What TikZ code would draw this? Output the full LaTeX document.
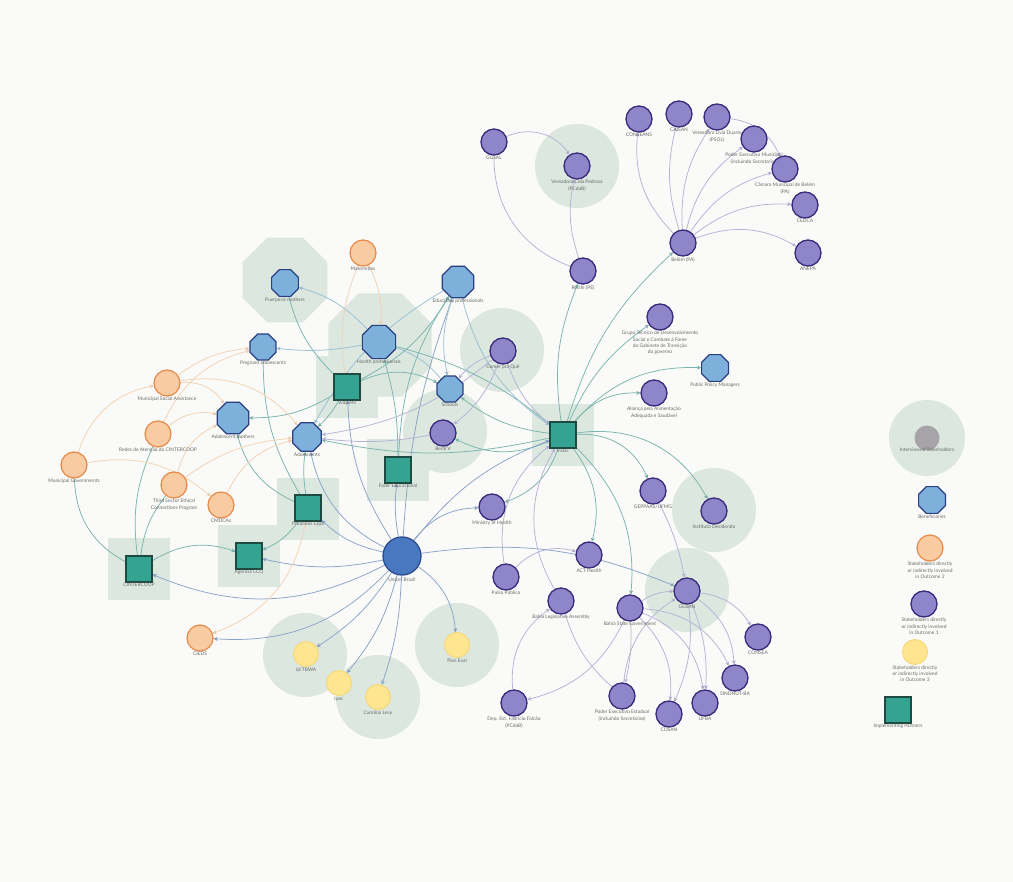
\documentclass[tikz,border=0pt]{standalone}
\usepackage{fontspec}
\setmainfont{Lato}
\usetikzlibrary{shapes.geometric,arrows.meta}

\definecolor{paper}{HTML}{FAFAF8}
\definecolor{hlc}{HTML}{DCE7DF}
\definecolor{pfill}{HTML}{8E86C9}
\definecolor{pdraw}{HTML}{3B2A7C}
\definecolor{ofill}{HTML}{F9CBA3}
\definecolor{odraw}{HTML}{E58A48}
\definecolor{yfill}{HTML}{FDE68F}
\definecolor{ydraw}{HTML}{F6D56E}
\definecolor{bfill}{HTML}{7DB1DC}
\definecolor{bdraw}{HTML}{283F80}
\definecolor{tfill}{HTML}{35A391}
\definecolor{tdraw}{HTML}{1D4B42}
\definecolor{ufill}{HTML}{4A78C0}
\definecolor{udraw}{HTML}{2C4C90}
\definecolor{gfill}{HTML}{A6A4A8}
\definecolor{txt}{HTML}{6A6A6A}
\definecolor{ecp}{HTML}{79B5AE}
\definecolor{ecu}{HTML}{8AA3C8}
\definecolor{ece}{HTML}{B6B2D6}
\definecolor{eco}{HTML}{F3D2B2}
\definecolor{ecb}{HTML}{99C0D4}

\pgfdeclarelayer{bg}
\pgfdeclarelayer{edges}
\pgfsetlayers{bg,edges,main}

\begin{document}
\begin{tikzpicture}[x=1pt,y=-1pt]
\tikzstyle{every label}=[font=\fontsize{4.9}{6.2}\selectfont,text=txt,align=center,inner sep=0.4pt]
\tikzstyle{o1}=[circle,draw=pdraw,fill=pfill,line width=1.3pt,minimum size=26pt,inner sep=0pt,label distance=1.2pt]
\tikzstyle{o2}=[circle,draw=odraw,fill=ofill,line width=1.2pt,minimum size=26pt,inner sep=0pt,label distance=1.2pt]
\tikzstyle{o3}=[circle,draw=ydraw,fill=yfill,line width=0.8pt,minimum size=25pt,inner sep=0pt,label distance=1.2pt]
\tikzstyle{benef}=[regular polygon,regular polygon sides=8,draw=bdraw,fill=bfill,line width=1.2pt,minimum size=29pt,inner sep=0pt,label distance=0.8pt]
\tikzstyle{partner}=[rectangle,draw=tdraw,fill=tfill,line width=1.2pt,minimum size=26pt,inner sep=0pt,label distance=1.2pt]
\tikzstyle{hlsq}=[rectangle,fill=hlc,minimum size=62pt,inner sep=0pt]
\tikzstyle{hloct}=[regular polygon,regular polygon sides=8,fill=hlc,inner sep=0pt]
\tikzstyle{hl}=[fill=hlc]
\tikzstyle{ep}=[draw=ecp,line width=0.75pt,-{Stealth[length=4pt,width=4pt]}]
\tikzstyle{eu}=[draw=ecu,line width=0.75pt,-{Stealth[length=4pt,width=4pt]}]
\tikzstyle{ee}=[draw=ece,line width=0.75pt,-{Stealth[length=4pt,width=4pt]}]
\tikzstyle{eo}=[draw=eco,line width=0.75pt,-{Stealth[length=4pt,width=4pt]}]
\tikzstyle{eb}=[draw=ecb,line width=0.75pt,-{Stealth[length=4pt,width=4pt]}]

\useasboundingbox (0,0) rectangle (1013,882);

% interviewed stakeholders
\begin{pgfonlayer}{bg}
\fill[paper] (0,0) rectangle (1013,882);
\fill[hl] (577,166) circle[radius=42];
\fill[hl] (502,350) circle[radius=42];
\fill[hl] (445,431) circle[radius=42];
\fill[hl] (714,510) circle[radius=42];
\fill[hl] (687,590) circle[radius=42];
\fill[hl] (305,655) circle[radius=42];
\fill[hl] (378,697) circle[radius=42];
\fill[hl] (457,645) circle[radius=42];
\fill[hl] (927,438) circle[radius=38];
\node[hloct,minimum size=92pt] (hpuerp) at (285,280) {};
\node[hloct,minimum size=112pt] (hhealth) at (380,345) {};
\node[hlsq] (hvidac) at (563,435) {};
\node[hlsq] (hvidamil) at (347,387) {};
\node[hlsq] (hfazer) at (398,470) {};
\node[hlsq] (hlapa) at (308,509) {};
\node[hlsq] (hcinter) at (139,569) {};
\node[hlsq] (hccq) at (249,556) {};
\end{pgfonlayer}

% outcome 1
\node[o1,label={below:GGSAL}] (ggsal) at (494,142) {};
\node[o1,label={below:Vereadora Cida Pedrosa\\(PCdoB)}] (cida) at (577,166) {};
\node[o1,label={below:CONSEANS}] (conseans) at (639,119) {};
\node[o1,label={below:CAISAN}] (caisan) at (679,114) {};
\node[o1,label={below:Vereadora Livia Duarte\\(PSOL)}] (livia) at (717,117) {};
\node[o1,label={below:Poder Executivo Municipal\\(incluindo Secretarias)}] (pemun) at (754,139) {};
\node[o1,label={below:Câmara Municipal de Belém\\(PA)}] (camara) at (785,169) {};
\node[o1,label={below:CEDCA}] (cedca) at (805,205) {};
\node[o1,label={below:ANEPA}] (anepa) at (808,253) {};
\node[o1,label={below:Belém (PA)}] (belem) at (683,243) {};
\node[o1,label={below:Recife (PE)}] (recife) at (583,271) {};
\node[o1,label={below:Grupo Técnico de Desenvolvimento\\Social e Combate à Fome\\do Gabinete de Transição\\do governo}] (grupo) at (660,317) {};
\node[o1,label={below:Aliança pela Alimentação\\Adequada e Saudável}] (alianca) at (654,393) {};
\node[o1,label={below:Comer pra Quê}] (comer) at (503,351) {};
\node[o1,label={below:BemTV}] (bemtv) at (443,433) {};
\node[o1,label={below:GEPPAAS/UFMG}] (geppaas) at (653,491) {};
\node[o1,label={below:Instituto Desiderata}] (desid) at (714,511) {};
\node[o1,label={below:Ministry of Health}] (moh) at (492,507) {};
\node[o1,label={below:ACT Health}] (act) at (589,555) {};
\node[o1,label={below:Pulso Público}] (pulso) at (506,577) {};
\node[o1,label={below:Bahia Legislative Assembly}] (alba) at (561,601) {};
\node[o1,label={below:Bahia State Government}] (bsg) at (630,608) {};
\node[o1,label={below:GGSAN}] (ggsan) at (687,591) {};
\node[o1,label={below:CONSEA}] (consea) at (758,637) {};
\node[o1,label={below:SINDNUT-BA}] (sindnut) at (735,678) {};
\node[o1,label={below:UFBA}] (ufba) at (705,703) {};
\node[o1,label={below:COSAN}] (cosan) at (669,714) {};
\node[o1,label={below:Poder Executivo Estadual\\(incluindo Secretarias)}] (peest) at (622,696) {};
\node[o1,label={below:Dep. Est. Fabrício Falcão\\(PCdoB)}] (dep) at (514,703) {};

% beneficiaries
\node[benef,label={below:Puerperal mothers}] (puerp) at (285,283) {};
\node[benef,minimum size=36pt,label={below:Health professionals}] (health) at (379,342) {};
\node[benef,minimum size=34pt,label={below:Education professionals}] (edu) at (458,282) {};
\node[benef,minimum size=28pt,label={below:Pregnant adolescents}] (preg) at (263,347) {};
\node[benef,minimum size=28pt,label={below:Schools}] (schools) at (450,389) {};
\node[benef,minimum size=34pt,label={below:Adolescent mothers}] (admoth) at (233,418) {};
\node[benef,minimum size=31pt,label={below:Adolescents}] (adol) at (307,437) {};
\node[benef,label={below:Public Policy Managers}] (ppm) at (715,368) {};

% outcome 2
\node[o2,label={below:Maternities}] (matern) at (363,253) {};
\node[o2,label={below:Municipal Social Assistance}] (msa) at (167,383) {};
\node[o2,label={below:Redes de Atenção do CINTERCOOP}] (redes) at (158,434) {};
\node[o2,label={below:Municipal Governments}] (mungov) at (74,465) {};
\node[o2,label={below:Third Sector Ethical\\Connections Program}] (third) at (174,485) {};
\node[o2,label={below:CMDCAs}] (cmdca) at (221,505) {};
\node[o2,label={below:CIEDS}] (cieds) at (200,638) {};

% outcome 3
\node[o3,label={below:id/TBWA}] (tbwa) at (306,654) {};
\node[o3,label={below:Ipec}] (ipec) at (339,683) {};
\node[o3,label={below:Carolina Levy}] (levy) at (378,697) {};
\node[o3,label={below:Plan Eval}] (plan) at (457,645) {};

% implementing partners
\node[partner,label={below:Vidac}] (vidac) at (563,435) {};
\node[partner,label={below:Vida Mil}] (vidamil) at (347,387) {};
\node[partner,label={below:Fazer Educacional}] (fazer) at (398,470) {};
\node[partner,label={below:Prodados Lapa}] (lapa) at (308,508) {};
\node[partner,label={below:CINTERCOOP}] (cinter) at (139,569) {};
\node[partner,label={below:Agência CCQ}] (ccq) at (249,556) {};
\node[circle,draw=udraw,fill=ufill,line width=1.3pt,minimum size=38pt,inner sep=0pt,label={[label distance=1.2pt]below:Unicef Brazil}] (unicef) at (402,556) {};

% legend
\node[circle,fill=gfill,minimum size=25pt,inner sep=0pt,label={[label distance=-3pt]below:Interviewed Stakeholders}] (lgint) at (927,438) {};
\node[benef,label={below:Beneficiaries}] (lgben) at (932,500) {};
\node[o2,label={below:Stakeholders directly\\or indirectly involved\\in Outcome 2}] (lgo2) at (930,548) {};
\node[o1,label={below:Stakeholders directly\\or indirectly involved\\in Outcome 1}] (lgo1) at (924,604) {};
\node[o3,label={below:Stakeholders directly\\or indirectly involved\\in Outcome 3}] (lgo3) at (915,652) {};
\node[partner,label={below:Implementing Partners}] (lgpart) at (898,710) {};

\begin{pgfonlayer}{edges}
% partners
\path[ep]
 (vidac) edge[bend left=15] (belem)
 (vidac) edge[bend left=15] (recife)
 (vidac) edge[bend left=15] (grupo)
 (vidac) edge[bend left=25] (ppm)
 (vidac) edge[bend left=25] (alianca)
 (vidac) edge[bend left=35] (geppaas)
 (vidac) edge[bend left=35] (desid)
 (vidac) edge[bend left=25] (act)
 (vidac) edge[bend left=25] (bsg)
 (vidac) edge[bend left=25] (bemtv)
 (vidac) edge[bend left=15] (schools)
 (vidac) edge[bend left=12] (adol)
 (vidac) edge[bend left=25] (moh)
 (vidac) edge[bend right=12,-] (health)
 (vidamil) edge[bend left=15] (admoth)
 (vidamil) edge[bend left=8] (adol)
 (vidamil) edge[bend left=25] (schools)
 (vidamil) edge[bend left=15,-] (puerp)
 (vidamil) edge[bend right=15] (edu)
 (fazer) edge[bend left=15] (edu)
 (fazer) edge[bend right=8] (health)
 (lapa) edge[bend left=8] (adol)
 (lapa) edge[bend left=25] (admoth)
 (lapa) edge[bend left=15] (ccq)
 (lapa) edge[bend left=15,-] (preg)
 (cinter) edge[bend left=25] (ccq)
 (cinter) edge[bend left=15,-] (redes)
 (cinter) edge[bend left=15,-] (third)
 (mungov) edge[bend right=30,-] (cinter);
% unicef
\path[eu]
 (unicef) edge[bend left=25] (cinter)
 (unicef) edge[bend left=12] (ccq)
 (unicef) edge[bend left=15] (lapa)
 (unicef) edge[bend left=25] (cieds)
 (unicef) edge[bend left=12] (tbwa)
 (unicef) edge[bend left=12] (ipec)
 (unicef) edge[bend left=8] (levy)
 (unicef) edge[bend left=25] (plan)
 (unicef) edge[bend left=25] (moh)
 (unicef) edge[bend left=15] (ggsan)
 (unicef) edge[bend left=15] (vidac)
 (unicef) edge[bend left=8] (fazer)
 (unicef) edge[bend left=15] (vidamil)
 (unicef) edge[bend left=25] (adol)
 (unicef) edge[bend left=8] (edu);
% outcome 2
\path[eo]
 (mungov) edge[bend left=30] (msa)
 (mungov) edge[bend left=25] (cmdca)
 (msa) edge[bend left=15] (preg)
 (msa) edge[bend left=30] (admoth)
 (msa) edge[bend left=30] (adol)
 (redes) edge[bend left=25] (admoth)
 (redes) edge[bend left=25] (preg)
 (third) edge[bend left=25] (admoth)
 (third) edge[bend left=15] (adol)
 (cmdca) edge[bend left=25] (adol)
 (matern) edge[bend left=15] (health)
 (matern) edge[bend right=15,-] (vidamil)
 (lapa) edge[bend left=30] (cieds);
% beneficiaries
\path[eb]
 (health) edge[bend left=8] (preg)
 (health) edge[bend right=15] (puerp)
 (health) edge[bend left=15,-] (schools)
 (edu) edge[bend right=15] (schools)
 (edu) edge[bend right=15] (adol)
 (edu) edge[bend right=20] (vidac);
% outcome 1
\path[ee]
 (ggsal) edge[bend left=40] (cida)
 (recife) edge[bend left=35,-] (ggsal)
 (recife) edge[bend left=15] (cida)
 (belem) edge[bend left=25] (conseans)
 (belem) edge[bend left=15] (caisan)
 (belem) edge[bend left=18] (livia)
 (belem) edge[bend left=20] (pemun)
 (belem) edge[bend left=20] (camara)
 (belem) edge[bend left=20] (cedca)
 (belem) edge[bend left=25] (anepa)
 (livia) edge[bend left=30] (camara)
 (comer) edge[bend left=15] (bemtv)
 (comer) edge[bend right=15] (schools)
 (comer) edge[bend left=15] (adol)
 (comer) edge[bend right=15] (vidac)
 (bemtv) edge[bend left=8] (adol)
 (pulso) edge[bend left=30] (act)
 (pulso) edge[bend left=30] (vidac)
 (alba) edge[bend left=30] (vidac)
 (geppaas) edge[bend left=8] (ggsan)
 (dep) edge[bend left=30] (alba)
 (bsg) edge[bend left=25] (dep)
 (peest) edge[bend left=15,-] (alba)
 (peest) edge[bend left=25] (ggsan)
 (bsg) edge[bend left=15] (ggsan)
 (bsg) edge[bend left=8] (peest)
 (bsg) edge[bend left=25] (cosan)
 (bsg) edge[bend left=30] (ufba)
 (bsg) edge[bend left=30] (sindnut)
 (ggsan) edge[bend left=25] (consea)
 (ggsan) edge[bend left=25] (sindnut)
 (ggsan) edge[bend left=12] (ufba)
 (ggsan) edge[bend left=15] (cosan);
\end{pgfonlayer}
\end{tikzpicture}
\end{document}
